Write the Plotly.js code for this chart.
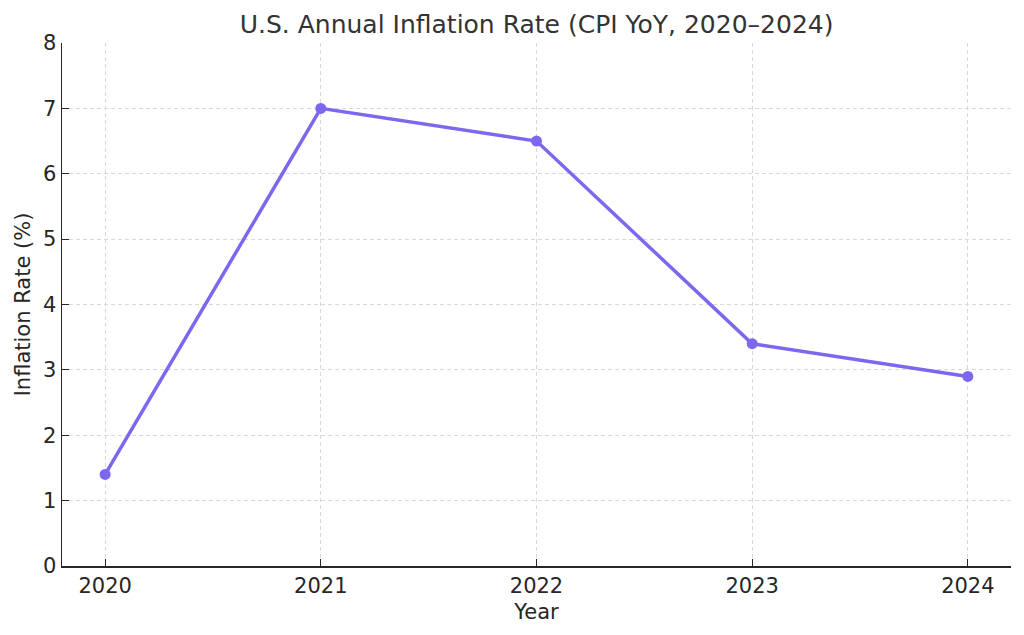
<!DOCTYPE html>
<html>
<head>
<meta charset="utf-8">
<script src="https://cdn.plot.ly/plotly-3.0.1.min.js"></script>
<style>html,body{margin:0;padding:0;background:#fff;}#chart{width:1024px;height:635px;}</style>
</head>
<body>
<div id="chart"></div>
<script>
const years = [2020, 2021, 2022, 2023, 2024];
const inflation = [1.4, 7.0, 6.5, 3.4, 2.9];
const yTicks = [0, 1, 2, 3, 4, 5, 6, 7, 8];

const trace = {
  x: years,
  y: inflation,
  type: 'scatter',
  mode: 'lines+markers',
  line: {color: '#7B68EE', width: 3.5},
  marker: {color: '#7B68EE', size: 11},
  hoverinfo: 'x+y'
};

const font = {family: 'DejaVu Sans, sans-serif', size: 21, color: '#262626'};

const layout = {
  width: 1024,
  height: 635,
  margin: {l: 62, r: 13, t: 43, b: 69},
  paper_bgcolor: '#fff',
  plot_bgcolor: '#fff',
  font: font,
  showlegend: false,
  title: {text: 'U.S. Annual Inflation Rate (CPI YoY, 2020–2024)', font: {family: 'DejaVu Sans, sans-serif', size: 25, color: '#333333'}, x: 0.524, xanchor: 'center', y: 0.962, yanchor: 'middle'},
  xaxis: {
    range: [2019.8, 2024.2],
    tickvals: years,
    ticktext: years.map(String),
    showgrid: true,
    gridcolor: '#d9d9d9',
    griddash: '4px,3px',
    gridwidth: 1,
    zeroline: false,
    showline: true,
    linecolor: '#262626',
    linewidth: 1.5,
    ticks: 'inside',
    ticklen: 7,
    tickcolor: '#262626',
    tickfont: font,
    title: {text: 'Year', font: font, standoff: 7}
  },
  yaxis: {
    range: [0, 8],
    tickvals: yTicks,
    ticktext: yTicks.map(String),
    showgrid: true,
    gridcolor: '#d9d9d9',
    griddash: '4px,3px',
    gridwidth: 1,
    zeroline: false,
    showline: true,
    linecolor: '#262626',
    linewidth: 1.5,
    ticks: 'inside',
    ticklen: 7,
    tickcolor: '#262626',
    tickfont: font,
    title: {text: 'Inflation Rate (%)', font: font, standoff: 6}
  }
};

Plotly.newPlot('chart', [trace], layout, {displayModeBar: false, staticPlot: true});
</script>
</body>
</html>
